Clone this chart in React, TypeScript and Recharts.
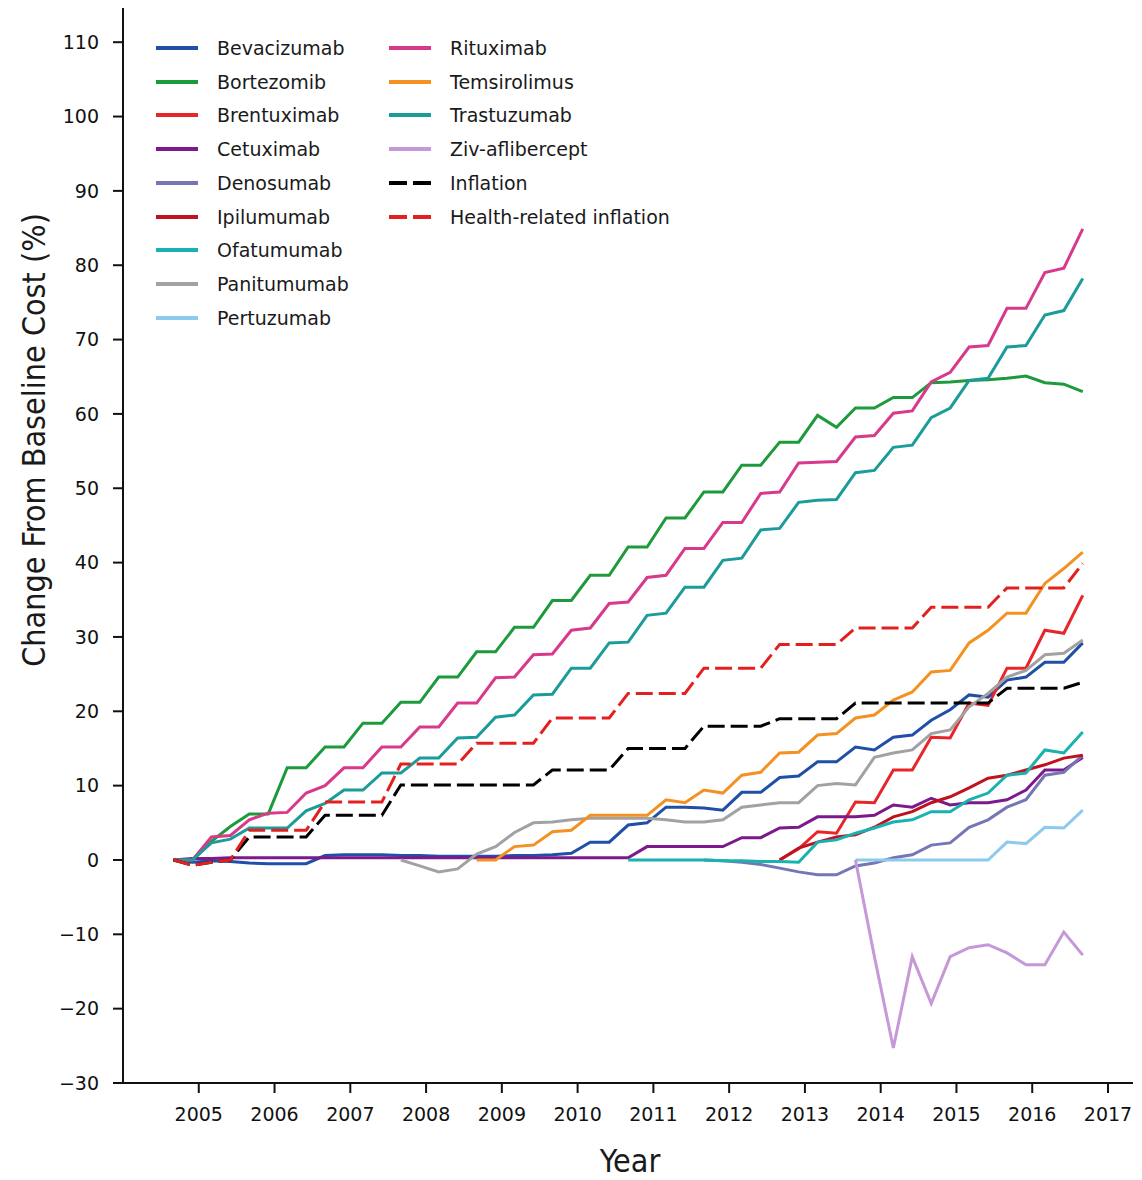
import { CartesianGrid, Line, LineChart, XAxis, YAxis } from "recharts";

// quarter mid-points (fractional years)
const QUARTERS = [
  2004.667, 2004.917, 2005.167, 2005.417, 2005.667, 2005.917, 2006.167, 2006.417, 2006.667, 2006.917,
  2007.167, 2007.417, 2007.667, 2007.917, 2008.167, 2008.417, 2008.667, 2008.917, 2009.167, 2009.417,
  2009.667, 2009.917, 2010.167, 2010.417, 2010.667, 2010.917, 2011.167, 2011.417, 2011.667, 2011.917,
  2012.167, 2012.417, 2012.667, 2012.917, 2013.167, 2013.417, 2013.667, 2013.917, 2014.167, 2014.417,
  2014.667, 2014.917, 2015.167, 2015.417, 2015.667, 2015.917, 2016.167, 2016.417, 2016.667,
];

const YEAR_TICKS = [2005, 2006, 2007, 2008, 2009, 2010, 2011, 2012, 2013, 2014, 2015, 2016, 2017];
const PCT_TICKS = [-30, -20, -10, 0, 10, 20, 30, 40, 50, 60, 70, 80, 90, 100, 110];

const _ = null;

const BEVACIZUMAB = [
  0, -0.3, -0.1, -0.2, -0.4, -0.5, -0.5, -0.5, 0.6, 0.7, 0.7, 0.7, 0.6, 0.6, 0.5, 0.5, 0.5, 0.5, 0.6, 0.6,
  0.7, 0.9, 2.4, 2.4, 4.7, 5.0, 7.1, 7.1, 7.0, 6.7, 9.1, 9.1, 11.1, 11.3, 13.2, 13.2, 15.2, 14.8, 16.5, 16.8,
  18.8, 20.2, 22.2, 21.9, 24.2, 24.6, 26.6, 26.6, 29.2,
];
const BORTEZOMIB = [
  0, 0, 2.5, 4.5, 6.2, 6.2, 12.4, 12.4, 15.2, 15.2, 18.4, 18.4, 21.2, 21.2, 24.6, 24.6, 28, 28, 31.3, 31.3,
  34.9, 34.9, 38.3, 38.3, 42.1, 42.1, 46, 46, 49.5, 49.5, 53.1, 53.1, 56.2, 56.2, 59.8, 58.2, 60.8, 60.8, 62.2, 62.2,
  64.2, 64.3, 64.5, 64.6, 64.8, 65.1, 64.2, 64.0, 63,
];
const BRENTUXIMAB = [
  _, _, _, _, _, _, _, _, _, _, _, _, _, _, _, _, _, _, _, _,
  _, _, _, _, _, _, _, _, _, _, _, _, 0, 1.5, 3.8, 3.6, 7.8, 7.7, 12.1, 12.1,
  16.5, 16.4, 21.1, 20.8, 25.8, 25.8, 30.9, 30.5, 35.6,
];
const CETUXIMAB = [
  0, 0.2, 0.2, 0.3, 0.3, 0.3, 0.3, 0.3, 0.3, 0.3, 0.3, 0.3, 0.3, 0.3, 0.3, 0.3, 0.3, 0.3, 0.3, 0.3,
  0.3, 0.3, 0.3, 0.3, 0.3, 1.8, 1.8, 1.8, 1.8, 1.8, 3.0, 3.0, 4.3, 4.4, 5.8, 5.8, 5.8, 6.0, 7.4, 7.1,
  8.3, 7.4, 7.7, 7.7, 8.1, 9.4, 12.1, 12.1, 13.8,
];
const DENOSUMAB = [
  _, _, _, _, _, _, _, _, _, _, _, _, _, _, _, _, _, _, _, _,
  _, _, _, _, _, _, _, _, 0, -0.1, -0.3, -0.6, -1.1, -1.6, -2.0, -2.0, -0.8, -0.4, 0.3, 0.7,
  2.0, 2.3, 4.4, 5.4, 7.1, 8.1, 11.4, 11.8, 14.1,
];
const IPILUMUMAB = [
  _, _, _, _, _, _, _, _, _, _, _, _, _, _, _, _, _, _, _, _,
  _, _, _, _, _, _, _, _, _, _, _, _, 0, 1.6, 2.4, 3.1, 3.4, 4.4, 5.8, 6.5,
  7.7, 8.5, 9.7, 11.0, 11.4, 12.1, 12.8, 13.7, 14.1,
];
const OFATUMUMAB = [
  _, _, _, _, _, _, _, _, _, _, _, _, _, _, _, _, _, _, _, _,
  _, _, _, _, 0, 0, 0, 0, 0, -0.1, -0.1, -0.2, -0.2, -0.3, 2.4, 2.7, 3.6, 4.3, 5.1, 5.4,
  6.5, 6.5, 8.1, 9.0, 11.4, 11.7, 14.8, 14.4, 17.2,
];
const PANITUMUMAB = [
  _, _, _, _, _, _, _, _, _, _, _, _, 0, -0.8, -1.6, -1.2, 0.8, 1.8, 3.7, 5.0,
  5.1, 5.4, 5.6, 5.6, 5.6, 5.6, 5.4, 5.1, 5.1, 5.4, 7.1, 7.4, 7.7, 7.7, 10.0, 10.3, 10.1, 13.8, 14.4, 14.8,
  17.0, 17.5, 20.6, 22.4, 24.6, 25.5, 27.6, 27.8, 29.6,
];
const PERTUZUMAB = [
  _, _, _, _, _, _, _, _, _, _, _, _, _, _, _, _, _, _, _, _,
  _, _, _, _, _, _, _, _, _, _, _, _, _, _, _, _, 0, 0, 0, 0,
  0, 0, 0, 0, 2.4, 2.2, 4.4, 4.3, 6.7,
];
const RITUXIMAB = [
  0, 0, 3.1, 3.3, 5.4, 6.3, 6.4, 9.0, 10.0, 12.4, 12.4, 15.2, 15.2, 17.9, 17.9, 21.1, 21.1, 24.5, 24.6, 27.6,
  27.7, 30.9, 31.2, 34.5, 34.7, 38, 38.3, 41.9, 41.9, 45.4, 45.4, 49.3, 49.5, 53.4, 53.5, 53.6, 56.9, 57.1, 60.1, 60.4,
  64.3, 65.6, 69, 69.2, 74.2, 74.2, 79, 79.6, 84.9,
];
const TEMSIROLIMUS = [
  _, _, _, _, _, _, _, _, _, _, _, _, _, _, _, _, 0, 0, 1.8, 2.0,
  3.8, 4.0, 6.0, 6.0, 6.0, 6.0, 8.1, 7.7, 9.4, 9.0, 11.4, 11.8, 14.4, 14.5, 16.8, 17.0, 19.1, 19.5, 21.5, 22.6,
  25.3, 25.5, 29.2, 30.9, 33.2, 33.2, 37.2, 39.2, 41.4,
];
const TRASTUZUMAB = [
  0, 0, 2.3, 2.8, 4.3, 4.3, 4.3, 6.6, 7.6, 9.4, 9.4, 11.7, 11.7, 13.7, 13.7, 16.4, 16.5, 19.2, 19.5, 22.2,
  22.3, 25.8, 25.8, 29.2, 29.3, 32.9, 33.2, 36.7, 36.7, 40.3, 40.6, 44.4, 44.6, 48.1, 48.4, 48.5, 52.1, 52.4, 55.5, 55.8,
  59.5, 60.8, 64.5, 64.8, 69, 69.2, 73.3, 73.9, 78.2,
];
const ZIV_AFLIBERCEPT = [
  _, _, _, _, _, _, _, _, _, _, _, _, _, _, _, _, _, _, _, _,
  _, _, _, _, _, _, _, _, _, _, _, _, _, _, _, _, 0, -13, -25.3, -13,
  -19.3, -13, -11.8, -11.4, -12.5, -14.1, -14.1, -9.7, -12.8,
];
const INFLATION = [
  0, -0.7, -0.3, 0, 3.1, 3.1, 3.1, 3.1, 6.0, 6.0, 6.0, 6.0, 10.1, 10.1, 10.1, 10.1, 10.1, 10.1, 10.1, 10.1,
  12.1, 12.1, 12.1, 12.1, 15.0, 15.0, 15.0, 15.0, 18.0, 18.0, 18.0, 18.0, 19.0, 19.0, 19.0, 19.0, 21.1, 21.1, 21.1, 21.1,
  21.1, 21.1, 21.1, 21.1, 23.1, 23.1, 23.1, 23.1, 23.9,
];
const HEALTH_INFLATION = [
  0, -0.7, -0.3, 0, 4.0, 4.0, 4.0, 4.0, 7.8, 7.8, 7.8, 7.8, 12.9, 12.9, 12.9, 12.9, 15.7, 15.7, 15.7, 15.7,
  19.1, 19.1, 19.1, 19.1, 22.4, 22.4, 22.4, 22.4, 25.8, 25.8, 25.8, 25.8, 29.0, 29.0, 29.0, 29.0, 31.2, 31.2, 31.2, 31.2,
  34.0, 34.0, 34.0, 34.0, 36.6, 36.6, 36.6, 36.6, 39.9,
];

const SERIES = [
  { key: "bev", label: "Bevacizumab", values: BEVACIZUMAB, color: "#1f4fa6" },
  { key: "bor", label: "Bortezomib", values: BORTEZOMIB, color: "#1c9a3c" },
  { key: "bre", label: "Brentuximab", values: BRENTUXIMAB, color: "#e8262a" },
  { key: "cet", label: "Cetuximab", values: CETUXIMAB, color: "#7c1a8c" },
  { key: "den", label: "Denosumab", values: DENOSUMAB, color: "#7676b6" },
  { key: "ipi", label: "Ipilumumab", values: IPILUMUMAB, color: "#c0121e" },
  { key: "ofa", label: "Ofatumumab", values: OFATUMUMAB, color: "#1ab2b0" },
  { key: "pan", label: "Panitumumab", values: PANITUMUMAB, color: "#a2a2a2" },
  { key: "per", label: "Pertuzumab", values: PERTUZUMAB, color: "#8ccaee" },
  { key: "rit", label: "Rituximab", values: RITUXIMAB, color: "#d8398a" },
  { key: "tem", label: "Temsirolimus", values: TEMSIROLIMUS, color: "#f39222" },
  { key: "tra", label: "Trastuzumab", values: TRASTUZUMAB, color: "#1b9c9a" },
  { key: "ziv", label: "Ziv-aflibercept", values: ZIV_AFLIBERCEPT, color: "#c698d8" },
  { key: "inf", label: "Inflation", values: INFLATION, color: "#000000", dash: "17 6" },
  { key: "hri", label: "Health-related inflation", values: HEALTH_INFLATION, color: "#e3201f", dash: "17 6" },
];

const data = QUARTERS.map((t, i) => {
  const row: Record<string, number | null> = { t };
  SERIES.forEach((s) => (row[s.key] = s.values[i]));
  return row;
});

const FONT = '"DejaVu Sans", Verdana, sans-serif';
const TITLE_FONT = '"Liberation Sans Narrow", "DejaVu Sans Condensed", "Liberation Sans", sans-serif';
const W = 1142;
const H = 1180;

const fmtPct = (v: number) => (v < 0 ? `\u2212${Math.abs(v)}` : `${v}`);

function LegendBlock() {
  const cols = [SERIES.slice(0, 9), SERIES.slice(9)];
  const colX = [155, 388];
  return (
    <>
      {cols.map((col, ci) =>
        col.map((s, ri) => (
          <div
            key={s.key}
            style={{
              position: "absolute",
              left: colX[ci],
              top: 48 + ri * 33.7 - 12,
              height: 24,
              display: "flex",
              alignItems: "center",
              fontFamily: FONT,
              fontSize: 19,
              color: "#1a1a1a",
              whiteSpace: "nowrap",
            }}
          >
            <svg width={44} height={6} style={{ marginRight: 18 }}>
              <line
                x1={1}
                y1={3}
                x2={43}
                y2={3}
                stroke={s.color}
                strokeWidth={4}
                strokeDasharray={s.dash ? "18 6" : undefined}
              />
            </svg>
            {s.label}
          </div>
        ))
      )}
    </>
  );
}

export default function App() {
  return (
    <div style={{ position: "absolute", left: 0, top: 0, width: W, height: H, background: "#fff" }}>
      <LineChart width={W} height={H} data={data} margin={{ top: 8, right: 9, bottom: 0, left: 0 }}>
        <CartesianGrid stroke="none" />
        <XAxis
          dataKey="t"
          type="number"
          domain={[2004, 2017.33]}
          ticks={YEAR_TICKS}
          allowDataOverflow
          height={97}
          tickSize={10}
          tickMargin={15}
          axisLine={{ stroke: "#111", strokeWidth: 2 }}
          tickLine={{ stroke: "#111", strokeWidth: 2 }}
          tick={{ fill: "#111", fontSize: 19, fontFamily: FONT }}
          label={{
            content: () => (
              <text x={630} y={1172} textAnchor="middle" fontSize={32} fontFamily={TITLE_FONT} fill="#1a1a1a">
                Year
              </text>
            ),
          }}
        />
        <YAxis
          type="number"
          domain={[-30, 114.6]}
          ticks={PCT_TICKS}
          tickFormatter={fmtPct}
          allowDataOverflow
          width={123}
          tickSize={10}
          tickMargin={14}
          axisLine={{ stroke: "#111", strokeWidth: 2 }}
          tickLine={{ stroke: "#111", strokeWidth: 2 }}
          tick={{ fill: "#111", fontSize: 19, fontFamily: FONT }}
          label={{
            content: () => (
              <text
                transform="translate(45,440) rotate(-90)"
                textAnchor="middle"
                fontSize={32}
                fontFamily={TITLE_FONT}
                fill="#1a1a1a"
              >
                Change From Baseline Cost (%)
              </text>
            ),
          }}
        />
        {SERIES.map((s) => (
          <Line
            key={s.key}
            dataKey={s.key}
            stroke={s.color}
            strokeWidth={3}
            strokeDasharray={s.dash}
            dot={false}
            activeDot={false}
            isAnimationActive={false}
            connectNulls={false}
          />
        ))}
      </LineChart>
      <LegendBlock />
    </div>
  );
}
